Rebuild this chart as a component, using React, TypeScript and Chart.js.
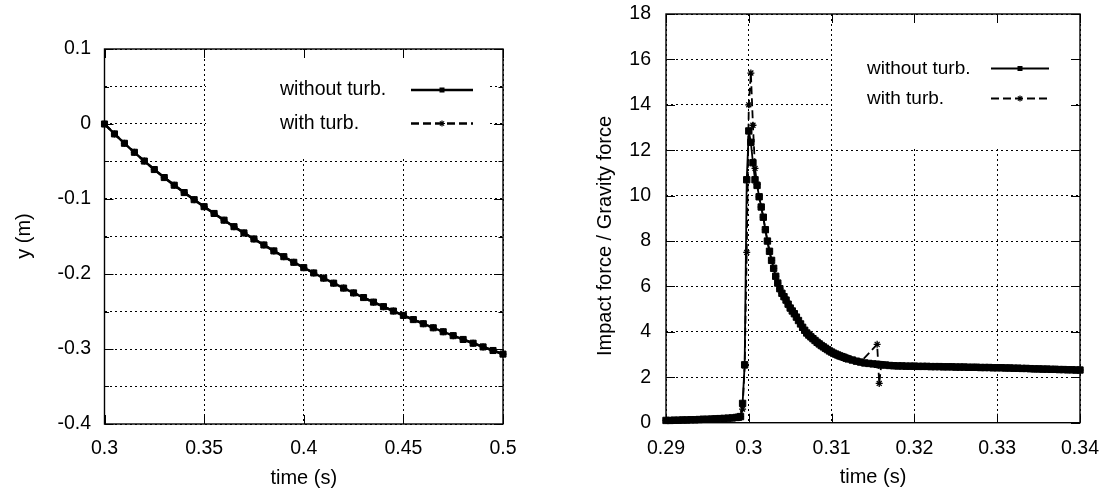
import React, { useEffect, useRef } from 'react';
import { Chart, registerables } from 'chart.js';

Chart.register(...registerables);

// ---------------- Left chart data: y (m) vs time (s) ----------------
const leftTimes = [
  0.3, 0.305, 0.31, 0.315, 0.32, 0.325, 0.33, 0.335, 0.34, 0.345,
  0.35, 0.355, 0.36, 0.365, 0.37, 0.375, 0.38, 0.385, 0.39, 0.395,
  0.4, 0.405, 0.41, 0.415, 0.42, 0.425, 0.43, 0.435, 0.44, 0.445,
  0.45, 0.455, 0.46, 0.465, 0.47, 0.475, 0.48, 0.485, 0.49, 0.495,
  0.5,
];
const leftWithoutTurb = [
  0, -0.0132, -0.0257, -0.0377, -0.0494, -0.0607, -0.0714, -0.0816, -0.0914, -0.1009,
  -0.1102, -0.1193, -0.1282, -0.1369, -0.1452, -0.1533, -0.1613, -0.1692, -0.1769, -0.1844,
  -0.1915, -0.1986, -0.2055, -0.2122, -0.2188, -0.2252, -0.2314, -0.2375, -0.2435, -0.2494,
  -0.2552, -0.2608, -0.2663, -0.2717, -0.277, -0.2822, -0.2873, -0.2923, -0.2972, -0.302,
  -0.3068,
];
const leftWithTurb = [
  0, -0.0132, -0.0257, -0.0377, -0.0494, -0.0607, -0.0714, -0.0816, -0.0914, -0.1009,
  -0.1102, -0.1193, -0.1282, -0.1369, -0.1452, -0.1533, -0.1613, -0.1692, -0.1769, -0.1844,
  -0.1915, -0.1986, -0.2055, -0.2122, -0.2188, -0.2252, -0.2314, -0.2375, -0.2435, -0.2494,
  -0.2552, -0.2608, -0.2663, -0.2717, -0.277, -0.2822, -0.2873, -0.2923, -0.2972, -0.302,
  -0.3068,
];
const leftXTickValues = [0.3, 0.35, 0.4, 0.45, 0.5];
const leftXTickLabels = ['0.3', '0.35', '0.4', '0.45', '0.5'];
const leftYTickValues = [-0.4, -0.35, -0.3, -0.25, -0.2, -0.15, -0.1, -0.05, 0, 0.05, 0.1];
const leftYTickLabels = ['-0.4', '', '-0.3', '', '-0.2', '', '-0.1', '', '0', '', '0.1'];

// ---------------- Right chart data: impact force / gravity force ----------------
const rightTimes = [
  0.29, 0.2905, 0.291, 0.2915, 0.292, 0.2925, 0.293, 0.2935, 0.294, 0.2945,
  0.295, 0.2955, 0.296, 0.2965, 0.297, 0.2975, 0.298, 0.2985, 0.29875, 0.299,
  0.29925, 0.2995, 0.29975, 0.3, 0.30025, 0.3005, 0.30075, 0.301, 0.30125, 0.3015,
  0.30175, 0.302, 0.30225, 0.3025, 0.30275, 0.303, 0.30325, 0.3035, 0.30375, 0.304,
  0.30425, 0.3045, 0.30475, 0.305, 0.30525, 0.3055, 0.30575, 0.306, 0.30625, 0.3065,
  0.30675, 0.307, 0.30725, 0.3075, 0.30775, 0.308, 0.30825, 0.3085, 0.30875, 0.309,
  0.30925, 0.3095, 0.30975, 0.31, 0.31025, 0.3105, 0.31075, 0.311, 0.31125, 0.3115,
  0.31175, 0.312, 0.3125, 0.313, 0.3135, 0.314, 0.3145, 0.315, 0.3155, 0.31575,
  0.316, 0.3165, 0.317, 0.3175, 0.318, 0.3185, 0.319, 0.3195, 0.32, 0.3205,
  0.321, 0.3215, 0.322, 0.3225, 0.323, 0.3235, 0.324, 0.3245, 0.325, 0.3255,
  0.326, 0.3265, 0.327, 0.3275, 0.328, 0.3285, 0.329, 0.3295, 0.33, 0.3305,
  0.331, 0.3315, 0.332, 0.3325, 0.333, 0.3335, 0.334, 0.3345, 0.335, 0.3355,
  0.336, 0.3365, 0.337, 0.3375, 0.338, 0.3385, 0.339, 0.3395, 0.34,
];
const rightWithoutTurb = [
  0.1, 0.1, 0.11, 0.11, 0.12, 0.12, 0.13, 0.13, 0.14, 0.15,
  0.15, 0.16, 0.17, 0.18, 0.19, 0.2, 0.21, 0.23, 0.24, 0.27,
  0.85, 2.55, 10.7, 12.85, 12.35, 11.45, 10.7, 10.45, 9.95, 9.5,
  9.05, 8.5, 8.0, 7.55, 7.15, 6.8, 6.45, 6.15, 5.9, 5.7,
  5.55, 5.4, 5.22, 5.05, 4.92, 4.8, 4.65, 4.5, 4.35, 4.2,
  4.07, 3.95, 3.86, 3.78, 3.7, 3.62, 3.54, 3.47, 3.4, 3.34,
  3.28, 3.22, 3.16, 3.11, 3.06, 3.02, 2.98, 2.94, 2.91, 2.88,
  2.84, 2.81, 2.76, 2.71, 2.67, 2.63, 2.61, 2.59, 2.57, 2.56,
  2.55, 2.54, 2.52, 2.51, 2.5, 2.5, 2.49, 2.49, 2.49, 2.48,
  2.48, 2.48, 2.47, 2.47, 2.47, 2.46, 2.46, 2.46, 2.45, 2.45,
  2.45, 2.44, 2.44, 2.44, 2.43, 2.43, 2.43, 2.42, 2.42, 2.42,
  2.41, 2.41, 2.4, 2.4, 2.39, 2.39, 2.38, 2.37, 2.37, 2.36,
  2.36, 2.35, 2.35, 2.34, 2.34, 2.33, 2.33, 2.32, 2.32,
];
const rightWithTurb = [
  0.1, 0.1, 0.11, 0.11, 0.12, 0.12, 0.13, 0.13, 0.14, 0.15,
  0.15, 0.16, 0.17, 0.18, 0.19, 0.2, 0.21, 0.23, 0.24, 0.27,
  0.6, 2.5, 7.5, 14.0, 15.4, 13.1, 11.2, 10.5, 9.95, 9.5,
  9.05, 8.5, 8.0, 7.55, 7.15, 6.8, 6.45, 6.15, 5.9, 5.7,
  5.55, 5.4, 5.22, 5.05, 4.92, 4.8, 4.65, 4.5, 4.35, 4.2,
  4.07, 3.95, 3.86, 3.78, 3.7, 3.62, 3.54, 3.47, 3.4, 3.34,
  3.28, 3.22, 3.16, 3.11, 3.06, 3.02, 2.98, 2.94, 2.91, 2.88,
  2.84, 2.81, 2.76, 2.71, 2.67, null, null, null, 3.45, 1.73,
  2.55, 2.54, 2.52, 2.51, 2.5, 2.5, 2.49, 2.49, 2.49, 2.48,
  2.48, 2.48, 2.47, 2.47, 2.47, 2.46, 2.46, 2.46, 2.45, 2.45,
  2.45, 2.44, 2.44, 2.44, 2.43, 2.43, 2.43, 2.42, 2.42, 2.42,
  2.41, 2.41, 2.4, 2.4, 2.39, 2.39, 2.38, 2.37, 2.37, 2.36,
  2.36, 2.35, 2.35, 2.34, 2.34, 2.33, 2.33, 2.32, 2.32,
];
const rightXTickValues = [0.29, 0.3, 0.31, 0.32, 0.33, 0.34];
const rightXTickLabels = ['0.29', '0.3', '0.31', '0.32', '0.33', '0.34'];
const rightYTickValues = [0, 2, 4, 6, 8, 10, 12, 14, 16, 18];
const rightYTickLabels = ['0', '2', '4', '6', '8', '10', '12', '14', '16', '18'];

const seriesNames = ['without turb.', 'with turb.'];

// ---------------- styling / layout ----------------
const FONT = "'Liberation Sans', Arial, Helvetica, sans-serif";

type Layout = {
  yAxisWidth: number;
  xAxisHeight: number;
  padTop: number;
  padRight: number;
  yTickPad: number;
  xTickPad: number;
  yTitle: { x: number; y: number; font: number };
  xTitlePad: number;
  key: { x1: number; x2: number; y2: number; textX: number; rows: number[]; lx1: number; lx2: number; font: number };
  minorY: boolean[];
  pointRadius: number;
  lineWidth: number;
};

function gnuplotPlugin(lay: Layout, xTicks: number[], yTicks: number[], yTitle: string) {
  return {
    id: 'gnuplotDecor',
    beforeDatasetsDraw(chart: any) {
      const { ctx, chartArea: a, scales } = chart;
      ctx.save();
      // opaque key box (hides the grid behind the key)
      ctx.fillStyle = '#ffffff';
      ctx.fillRect(lay.key.x1, a.top + 1, lay.key.x2 - lay.key.x1, lay.key.y2 - a.top - 1);

      // inward tick marks on all four borders
      ctx.strokeStyle = '#000';
      ctx.lineWidth = 1;
      ctx.setLineDash([]);
      ctx.beginPath();
      const L = 9;
      for (const v of xTicks) {
        const px = Math.round(scales.x.getPixelForValue(v)) + 0.5;
        ctx.moveTo(px, a.top);
        ctx.lineTo(px, a.top + L);
        ctx.moveTo(px, a.bottom);
        ctx.lineTo(px, a.bottom - L);
      }
      yTicks.forEach((v, i) => {
        const py = Math.round(scales.y.getPixelForValue(v)) + 0.5;
        const len = lay.minorY[i] ? L / 2 : L;
        ctx.moveTo(a.left, py);
        ctx.lineTo(a.left + len, py);
        ctx.moveTo(a.right, py);
        ctx.lineTo(a.right - len, py);
      });
      ctx.stroke();

      // frame
      ctx.lineWidth = 1.4;
      ctx.strokeRect(a.left, a.top, a.right - a.left, a.bottom - a.top);

      // y-axis title (rotated)
      ctx.save();
      ctx.translate(lay.yTitle.x, lay.yTitle.y);
      ctx.rotate(-Math.PI / 2);
      ctx.font = `${lay.yTitle.font}px ${FONT}`;
      ctx.fillStyle = '#000';
      ctx.textAlign = 'center';
      ctx.textBaseline = 'middle';
      ctx.fillText(yTitle, 0, 0);
      ctx.restore();

      // key entries
      const k = lay.key;
      ctx.font = `${k.font}px ${FONT}`;
      ctx.fillStyle = '#000';
      ctx.textAlign = 'left';
      ctx.textBaseline = 'middle';
      const mid = (k.lx1 + k.lx2) / 2;
      // row 1: solid line with square
      ctx.fillText(seriesNames[0], k.textX, k.rows[0]);
      ctx.lineWidth = lay.lineWidth;
      ctx.beginPath();
      ctx.moveTo(k.lx1, k.rows[0]);
      ctx.lineTo(k.lx2, k.rows[0]);
      ctx.stroke();
      const s = 5;
      ctx.fillRect(mid - s / 2, k.rows[0] - s / 2, s, s);
      // row 2: dashed line with star
      ctx.fillText(seriesNames[1], k.textX, k.rows[1]);
      ctx.setLineDash([8, 4]);
      ctx.beginPath();
      ctx.moveTo(k.lx1, k.rows[1]);
      ctx.lineTo(k.lx2, k.rows[1]);
      ctx.stroke();
      ctx.setLineDash([]);
      ctx.lineWidth = 1.2;
      const r = 3;
      ctx.beginPath();
      ctx.moveTo(mid - r, k.rows[1]);
      ctx.lineTo(mid + r, k.rows[1]);
      ctx.moveTo(mid, k.rows[1] - r);
      ctx.lineTo(mid, k.rows[1] + r);
      ctx.moveTo(mid - r * 0.7, k.rows[1] - r * 0.7);
      ctx.lineTo(mid + r * 0.7, k.rows[1] + r * 0.7);
      ctx.moveTo(mid - r * 0.7, k.rows[1] + r * 0.7);
      ctx.lineTo(mid + r * 0.7, k.rows[1] - r * 0.7);
      ctx.stroke();
      ctx.restore();
    },
  };
}

function buildConfig(
  times: number[],
  without: (number | null)[],
  withT: (number | null)[],
  xTicks: number[],
  xLabels: string[],
  yTicks: number[],
  yLabels: string[],
  xTitle: string,
  yTitle: string,
  lay: Layout,
): any {
  const toPts = (ys: (number | null)[]) => times.map((t, i) => ({ x: t, y: ys[i] }));
  const tickFont = { family: FONT, size: 19.5 };
  const titleFont = { family: FONT, size: 20 };
  return {
    type: 'line',
    data: {
      datasets: [
        {
          label: seriesNames[0],
          data: toPts(without),
          borderColor: '#000',
          backgroundColor: '#000',
          borderWidth: lay.lineWidth,
          pointStyle: 'rect',
          pointRadius: lay.pointRadius,
          pointBorderWidth: 1,
          pointBackgroundColor: '#000',
          pointBorderColor: '#000',
          tension: 0,
          clip: false,
          order: 0,
        },
        {
          label: seriesNames[1],
          data: toPts(withT),
          borderColor: '#000',
          backgroundColor: '#000',
          borderWidth: lay.lineWidth,
          borderDash: [8, 4],
          pointStyle: 'star',
          pointRadius: 3.5,
          pointBorderWidth: 1.3,
          pointBackgroundColor: '#000',
          pointBorderColor: '#000',
          tension: 0,
          spanGaps: true,
          clip: false,
          order: 1,
        },
      ],
    },
    options: {
      responsive: false,
      animation: false,
      devicePixelRatio: 1,
      events: [],
      layout: { padding: { top: lay.padTop, right: lay.padRight, left: 0, bottom: 0 } },
      plugins: { legend: { display: false }, tooltip: { enabled: false }, title: { display: false } },
      scales: {
        x: {
          type: 'linear',
          min: xTicks[0],
          max: xTicks[xTicks.length - 1],
          afterBuildTicks: (sc: any) => {
            sc.ticks = xTicks.map((v) => ({ value: v }));
          },
          afterFit: (sc: any) => {
            sc.height = lay.xAxisHeight;
            sc.paddingLeft = 0;
            sc.paddingRight = 0;
          },
          ticks: {
            autoSkip: false,
            maxRotation: 0,
            minRotation: 0,
            padding: lay.xTickPad,
            color: '#000',
            font: tickFont,
            callback: (_v: any, i: number) => xLabels[i],
          },
          grid: { color: '#000', lineWidth: 1, drawTicks: false, drawOnChartArea: true },
          border: { display: false, dash: [2, 3] },
          title: {
            display: true,
            text: xTitle,
            color: '#000',
            font: titleFont,
            padding: { top: 0, bottom: lay.xTitlePad },
          },
        },
        y: {
          type: 'linear',
          min: yTicks[0],
          max: yTicks[yTicks.length - 1],
          afterBuildTicks: (sc: any) => {
            sc.ticks = yTicks.map((v) => ({ value: v }));
          },
          afterFit: (sc: any) => {
            sc.width = lay.yAxisWidth;
            sc.paddingTop = 0;
            sc.paddingBottom = 0;
          },
          ticks: {
            autoSkip: false,
            padding: lay.yTickPad,
            color: '#000',
            font: tickFont,
            callback: (_v: any, i: number) => yLabels[i],
          },
          grid: { color: '#000', lineWidth: 1, drawTicks: false, drawOnChartArea: true },
          border: { display: false, dash: [2, 3] },
          title: { display: false },
        },
      },
    },
    plugins: [gnuplotPlugin(lay, xTicks, yTicks, yTitle)],
  };
}

const leftLayout: Layout = {
  yAxisWidth: 104.5,
  xAxisHeight: 70,
  padTop: 49,
  padRight: 57,
  yTickPad: 13.5,
  xTickPad: 13,
  yTitle: { x: 24, y: 236, font: 20 },
  xTitlePad: 3.6,
  key: { x1: 206, x2: 487, y2: 159, textX: 280, rows: [90, 123.5], lx1: 411, lx2: 473, font: 19.5 },
  minorY: [false, true, false, true, false, true, false, true, false, true, false],
  pointRadius: 4.3,
  lineWidth: 2.4,
};

const rightLayout: Layout = {
  yAxisWidth: 106,
  xAxisHeight: 71.3,
  padTop: 14,
  padRight: 40,
  yTickPad: 15,
  xTickPad: 14.2,
  yTitle: { x: 45, y: 236, font: 20 },
  xTitlePad: 4.6,
  key: { x1: 272, x2: 513, y2: 147, textX: 307, rows: [68.5, 98.5], lx1: 431, lx2: 489, font: 19 },
  minorY: [false, false, false, false, false, false, false, false, false, false],
  pointRadius: 4.5,
  lineWidth: 1.8,
};

export default function App() {
  const leftRef = useRef<HTMLCanvasElement>(null);
  const rightRef = useRef<HTMLCanvasElement>(null);

  useEffect(() => {
    const c1 = new Chart(
      leftRef.current as HTMLCanvasElement,
      buildConfig(leftTimes, leftWithoutTurb, leftWithTurb, leftXTickValues, leftXTickLabels,
        leftYTickValues, leftYTickLabels, 'time (s)', 'y (m)', leftLayout),
    );
    const c2 = new Chart(
      rightRef.current as HTMLCanvasElement,
      buildConfig(rightTimes, rightWithoutTurb, rightWithTurb, rightXTickValues, rightXTickLabels,
        rightYTickValues, rightYTickLabels, 'time (s)', 'Impact force / Gravity force', rightLayout),
    );
    return () => {
      c1.destroy();
      c2.destroy();
    };
  }, []);

  return (
    <div style={{ position: 'fixed', left: 0, top: 0, width: 1120, height: 494, background: '#fff' }}>
      <canvas
        ref={leftRef}
        width={560}
        height={494}
        style={{ position: 'absolute', left: 0, top: 0, width: 560, height: 494 }}
      />
      <canvas
        ref={rightRef}
        width={560}
        height={494}
        style={{ position: 'absolute', left: 560, top: 0, width: 560, height: 494 }}
      />
    </div>
  );
}
